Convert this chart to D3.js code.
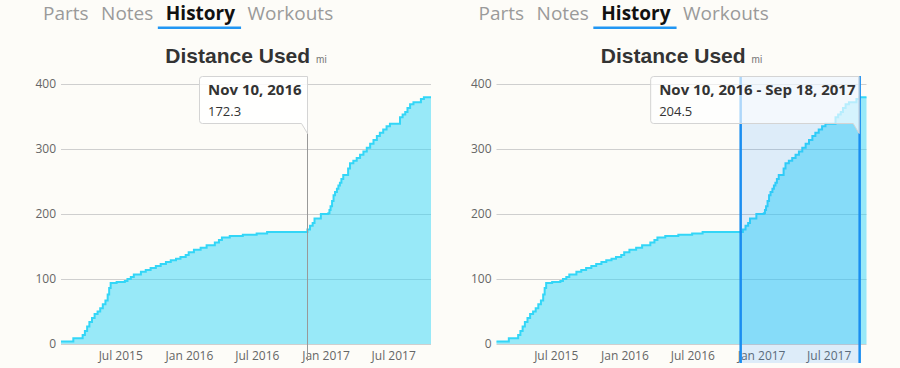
<!DOCTYPE html>
<html>
<head>
<meta charset="utf-8">
<script src="https://cdn.jsdelivr.net/npm/d3@7"></script>
<style>
  html, body { margin: 0; padding: 0; background: #fdfcf8; }
  svg { display: block; }
</style>
</head>
<body>
<svg id="chart" width="900" height="368"></svg>
<script>
// tabs above each chart
const tabs = ["Parts", "Notes", "History", "Workouts"];
const activeTab = "History";

const chartTitle = "Distance Used";
const unit = "mi";

// cumulative distance (mi), one step per change
const dates = [
    "2015-01-22", "2015-02-24", "2015-03-21", "2015-03-27", "2015-04-02", "2015-04-08",
    "2015-04-15", "2015-04-22", "2015-04-30", "2015-05-07", "2015-05-14", "2015-05-21",
    "2015-05-27", "2015-05-31", "2015-06-04", "2015-06-20", "2015-07-12", "2015-07-19",
    "2015-07-28", "2015-08-05", "2015-08-24", "2015-09-06", "2015-09-19", "2015-10-03",
    "2015-10-16", "2015-10-30", "2015-11-12", "2015-11-26", "2015-12-08", "2015-12-22",
    "2015-12-30", "2016-01-13", "2016-01-31", "2016-02-16", "2016-03-09", "2016-03-20",
    "2016-03-28", "2016-04-18", "2016-05-23", "2016-06-29", "2016-07-27", "2016-11-12",
    "2016-11-19", "2016-11-26", "2016-12-01", "2016-12-18", "2017-01-07", "2017-01-10",
    "2017-01-13", "2017-01-17", "2017-01-21", "2017-01-25", "2017-01-30", "2017-02-03",
    "2017-02-07", "2017-02-11", "2017-02-16", "2017-03-01", "2017-03-06", "2017-03-15",
    "2017-03-24", "2017-04-02", "2017-04-11", "2017-04-20", "2017-04-29", "2017-05-08",
    "2017-05-17", "2017-05-25", "2017-06-03", "2017-06-12", "2017-06-21", "2017-07-18",
    "2017-07-25", "2017-08-01", "2017-08-07", "2017-08-14", "2017-08-23", "2017-09-12",
    "2017-09-20", "2017-10-09"
];
const miles = [
    4, 9, 14, 20, 27, 34,
    40, 46, 50, 55, 61, 67,
    76, 86, 94, 95.5, 97, 100,
    103, 107, 111, 114, 117, 120,
    123, 126, 129, 131, 134, 137,
    141, 145, 148, 152, 156, 160,
    164, 166, 168, 170, 172.3, 176,
    182, 186, 193, 200, 201, 206,
    212, 220, 229, 234, 239, 244,
    248, 254, 260, 270, 278, 282,
    286, 291, 296, 302, 308, 314,
    320, 325, 330, 335, 339, 349,
    353, 357, 363, 369, 372, 376.8,
    379.5, 379.5
];

const yTicks = [0, 100, 200, 300, 400];
const xTickDates = ["2015-07-01", "2016-01-01", "2016-07-01", "2017-01-01", "2017-07-01"];
const xTickLabels = ["Jul 2015", "Jan 2016", "Jul 2016", "Jan 2017", "Jul 2017"];

// left chart: hover tooltip; right chart: selected range
const hoverDate = "2016-11-10";
const hoverLabel = "Nov 10, 2016";
const hoverValue = "172.3";
const rangeStart = "2016-11-10";
const rangeEnd = "2017-09-18";
const rangeLabel = "Nov 10, 2016 - Sep 18, 2017";
const rangeValue = "204.5";

const parse = d3.utcParse("%Y-%m-%d");
const data = dates.map((d, i) => ({ date: parse(d), value: miles[i] }));

const svg = d3.select("#chart");
const lineColor = "#33d6f7";

function drawPanel(offset, mode) {
    const g = svg.append("g").attr("transform", `translate(${offset},0)`);
    const left = 61, right = 431, top = 84, bottom = 344;

    // tabs
    const tabG = g.append("g");
    let tx = 43;
    tabs.forEach((t) => {
        const active = t === activeTab;
        const txt = tabG.append("text")
            .attr("x", tx)
            .attr("y", 20)
            .attr("font-family", "Open Sans")
            .attr("font-size", 19)
            .attr("font-weight", active ? 700 : 400)
            .attr("fill", active ? "#111" : "#9a9a9a")
            .text(t);
        const w = txt.node().getComputedTextLength();
        if (active) {
            tabG.append("rect")
                .attr("x", tx - 8)
                .attr("y", 26.5)
                .attr("width", w + 14)
                .attr("height", 2.5)
                .attr("fill", "#2196f3");
        }
        tx += w + 12.5;
    });

    // title
    const title = g.append("text")
        .attr("x", (left + right) / 2)
        .attr("y", 63)
        .attr("text-anchor", "middle")
        .attr("font-family", "Liberation Sans, Arial, sans-serif");
    title.append("tspan")
        .attr("font-size", 21)
        .attr("font-weight", 700)
        .attr("fill", "#333")
        .text(chartTitle);
    title.append("tspan")
        .attr("dx", 6)
        .attr("font-size", 10)
        .attr("fill", "#777")
        .text(unit);

    const x = d3.scaleUtc()
        .domain(d3.extent(data, (d) => d.date))
        .range([left, right]);
    const y = d3.scaleLinear().domain([0, 400]).range([bottom, top]);

    // grid lines
    g.append("g")
        .selectAll("line")
        .data(yTicks)
        .join("line")
        .attr("x1", left)
        .attr("x2", right)
        .attr("y1", (d) => y(d) + 0.5)
        .attr("y2", (d) => y(d) + 0.5)
        .attr("stroke", "#cfcfcf")
        .attr("stroke-width", 1);

    // y labels
    g.append("g")
        .selectAll("text")
        .data(yTicks)
        .join("text")
        .attr("x", left - 5)
        .attr("y", (d) => y(d))
        .attr("dy", "0.35em")
        .attr("text-anchor", "end")
        .attr("font-family", "Open Sans")
        .attr("font-size", 12)
        .attr("fill", "#666")
        .text((d) => d);

    // x labels
    g.append("g")
        .selectAll("text")
        .data(xTickDates)
        .join("text")
        .attr("x", (d) => x(parse(d)))
        .attr("y", 360)
        .attr("text-anchor", "middle")
        .attr("font-family", "Open Sans")
        .attr("font-size", 12)
        .attr("fill", "#666")
        .text((d, i) => xTickLabels[i]);

    const area = d3.area()
        .curve(d3.curveStepAfter)
        .x((d) => x(d.date))
        .y0(y(0))
        .y1((d) => y(d.value));
    const line = d3.line()
        .curve(d3.curveStepAfter)
        .x((d) => x(d.date))
        .y((d) => y(d.value));

    g.append("path")
        .datum(data)
        .attr("d", area)
        .attr("fill", lineColor)
        .attr("fill-opacity", 0.5);
    g.append("path")
        .datum(data)
        .attr("d", line)
        .attr("fill", "none")
        .attr("stroke", lineColor)
        .attr("stroke-width", 2);

    let boxX0, boxX1, label, value;
    if (mode === "hover") {
        const hx = Math.round(x(parse(hoverDate))) + 0.5;
        g.append("line")
            .attr("x1", hx).attr("x2", hx)
            .attr("y1", 77).attr("y2", 361)
            .attr("stroke", "#999")
            .attr("stroke-width", 1);
        boxX1 = hx;
        boxX0 = hx - 108;
        label = hoverLabel;
        value = hoverValue;
    } else {
        const sx0 = x(parse(rangeStart)) - 1.5;
        const sx1 = x(parse(rangeEnd)) + 1;
        g.append("rect")
            .attr("x", sx0)
            .attr("y", 76)
            .attr("width", sx1 - sx0)
            .attr("height", 287)
            .attr("fill", "#1e90ff")
            .attr("fill-opacity", 0.14);
        [sx0, sx1].forEach((sx) => {
            g.append("line")
                .attr("x1", sx).attr("x2", sx)
                .attr("y1", 76).attr("y2", 363)
                .attr("stroke", "#1a8df0")
                .attr("stroke-width", 2.5);
        });
        boxX1 = sx1 - 0.5;
        boxX0 = boxX1 - 208.5;
        label = rangeLabel;
        value = rangeValue;
    }

    // tooltip callout, tail at the bottom right corner
    const y0 = 76.5, y1 = 123.5, r = 3;
    const tip = g.append("g");
    tip.append("path")
        .attr("d", `M${boxX0 + r},${y0} H${boxX1} V${y1 + 10} L${boxX1 - 6},${y1} H${boxX0 + r}` +
            ` Q${boxX0},${y1} ${boxX0},${y1 - r} V${y0 + r} Q${boxX0},${y0} ${boxX0 + r},${y0} Z`)
        .attr("fill", "#fff")
        .attr("fill-opacity", mode === "hover" ? 0.85 : 0.65)
        .attr("stroke", "#d4d4d4")
        .attr("stroke-width", 1);
    tip.append("text")
        .attr("x", boxX0 + 8.5)
        .attr("y", 94.5)
        .attr("font-family", "Open Sans")
        .attr("font-size", 15)
        .attr("font-weight", 700)
        .attr("fill", "#333")
        .text(label);
    tip.append("text")
        .attr("x", boxX0 + 8.5)
        .attr("y", 116)
        .attr("font-family", "Open Sans")
        .attr("font-size", 13)
        .attr("fill", "#333")
        .text(value);
}

drawPanel(0, "hover");
drawPanel(435.5, "range");
</script>
</body>
</html>
